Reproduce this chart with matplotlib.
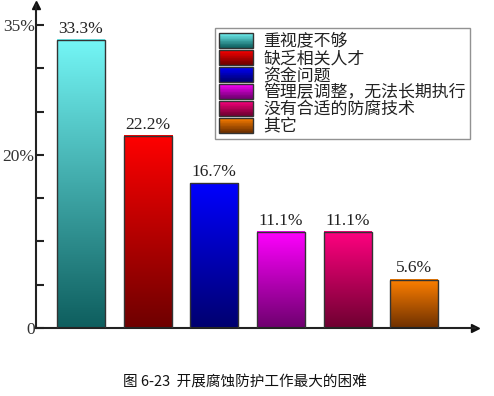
import numpy as np
import matplotlib
matplotlib.use("Agg")
import matplotlib.pyplot as plt
from matplotlib.patches import Rectangle
from matplotlib.legend_handler import HandlerBase
from matplotlib.colors import to_rgb

categories = ["重视度不够", "缺乏相关人才", "资金问题", "管理层调整，无法长期执行", "没有合适的防腐技术", "其它"]
values = [33.3, 22.2, 16.7, 11.1, 11.1, 5.6]
value_labels = ["33.3%", "22.2%", "16.7%", "11.1%", "11.1%", "5.6%"]
top_colors = ["#74F6F6", "#FF0000", "#0000FF", "#FF00FF", "#FF0080", "#FF8000"]
bottom_colors = ["#0E5E5E", "#6E0000", "#00006E", "#6E006E", "#6E0030", "#6E3000"]
yticks = [0, 5, 10, 15, 20, 25, 30, 35]
ytick_labels = {0: "0", 20: "20%", 35: "35%"}
caption = "图 6-23  开展腐蚀防护工作最大的困难"

plt.rcParams['font.family'] = ['Noto Sans CJK SC', 'DejaVu Sans']

W, H = 494, 396
fig = plt.figure(figsize=(W / 100, H / 100), dpi=100)
ax = fig.add_axes([36 / W, 68 / H, 439 / W, 323 / H])

def grad_image(top, bottom, n=256):
    t = np.array(to_rgb(top))
    b = np.array(to_rgb(bottom))
    f = np.linspace(0, 1, n)[:, None]
    return (t * (1 - f) + b * f)[:, None, :]

x = np.arange(len(values))
bars = ax.bar(x, values, width=0.72, color="none", edgecolor="#333333", linewidth=1.0, zorder=3)
for b, tc, bc, lab in zip(bars, top_colors, bottom_colors, value_labels):
    x0, w, h = b.get_x(), b.get_width(), b.get_height()
    ax.imshow(grad_image(tc, bc), extent=[x0, x0 + w, 0, h], aspect='auto', zorder=2, interpolation='bilinear')
    ax.text(x0 + w / 2, h + 0.35, lab, ha='center', va='bottom', fontsize=12.5,
            family=['Liberation Serif', 'DejaVu Serif'], color="#222222")
ax.set_xlim(-0.675, 5.91)
ax.set_ylim(0, 37.3)

for s in ['top', 'right']:
    ax.spines[s].set_visible(False)
for s in ['left', 'bottom']:
    ax.spines[s].set_linewidth(1.5)
    ax.spines[s].set_color("#222222")
ax.set_xticks([])
ax.set_yticks(yticks)
ax.set_yticklabels([ytick_labels.get(v, "") for v in yticks], family=['Liberation Serif'], fontsize=12.5, color="#333333")
ax.tick_params(axis='y', direction='in', length=6, width=1.5, color="#222222", pad=1)

ax.plot([0], [1], marker='^', transform=ax.transAxes, clip_on=False, color="#111111", markersize=6)
ax.plot([1], [0], marker='>', transform=ax.transAxes, clip_on=False, color="#111111", markersize=6)

class GradHandler(HandlerBase):
    def __init__(self, top, bottom, n=20):
        super().__init__()
        self.top, self.bottom, self.n = top, bottom, n
    def create_artists(self, legend, orig_handle, xdescent, ydescent, width, height, fontsize, trans):
        arts = []
        t = np.array(to_rgb(self.top)); b = np.array(to_rgb(self.bottom))
        for i in range(self.n):
            f = (i + 0.5) / self.n
            c = t * (1 - f) + b * f
            y0 = -ydescent + height * (1 - (i + 1) / self.n)
            r = Rectangle((-xdescent, y0), width, height / self.n + 0.3, facecolor=c, edgecolor='none', transform=trans)
            arts.append(r)
        frame = Rectangle((-xdescent, -ydescent), width, height, facecolor='none', edgecolor="#333333", lw=1.0, transform=trans)
        arts.append(frame)
        return arts

handles = [Rectangle((0, 0), 1, 1) for _ in categories]
hmap = {h: GradHandler(tc, bc) for h, tc, bc in zip(handles, top_colors, bottom_colors)}
leg = ax.legend(handles, categories, handler_map=hmap, loc='upper left',
                bbox_to_anchor=(215 / W, 1 - 28 / H), bbox_transform=fig.transFigure,
                frameon=True, fancybox=False, edgecolor="#777777",
                handlelength=2.0, handleheight=0.95, labelspacing=-0.06, handletextpad=0.6,
                borderpad=0.25, borderaxespad=0, prop={'family': ['Noto Sans CJK SC'], 'size': 12.2})
leg.get_frame().set_linewidth(1.0)
leg.set_zorder(5)
for t in leg.get_texts():
    t.set_color("#222222")

fig.text(245 / W, 1 - 382 / H, caption, ha='center', va='center', fontsize=10.5, color="#111111")

fig.savefig("out.png", dpi=100)
